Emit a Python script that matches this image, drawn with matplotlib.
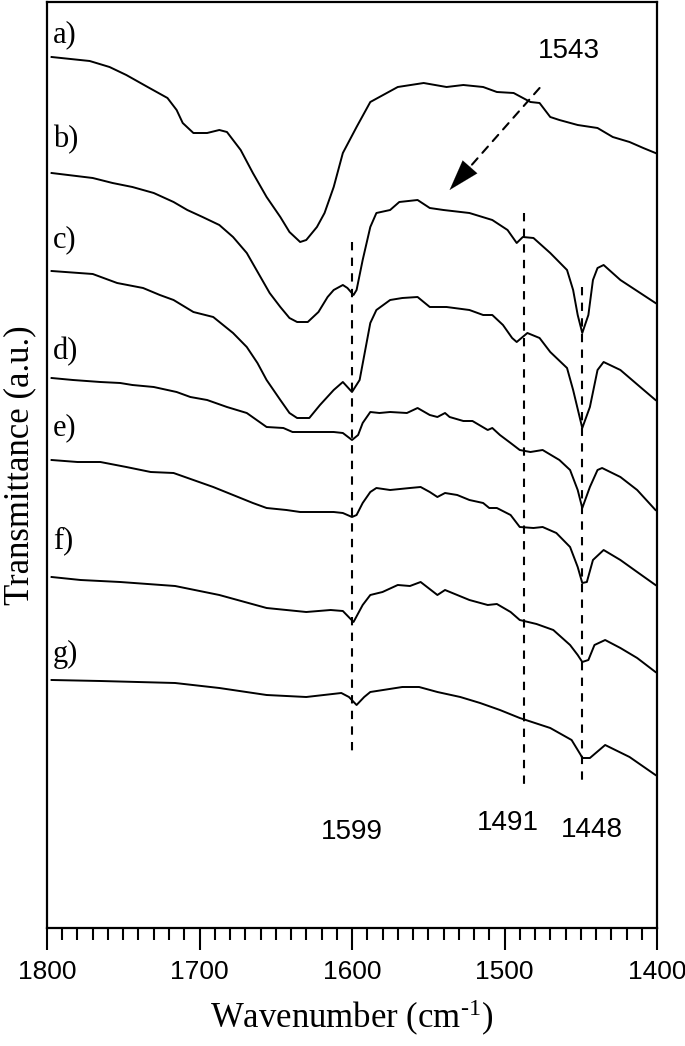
import matplotlib
matplotlib.use("Agg")
import matplotlib.pyplot as plt
from matplotlib.ticker import MultipleLocator

# =========================
# data (wavenumber / transmittance a.u.)
# =========================
wn_a = [1797, 1772, 1759, 1748, 1734, 1721, 1715, 1711, 1704, 1695, 1687, 1682, 1673, 1665,
        1656, 1647, 1641, 1634, 1630, 1623, 1618, 1612, 1606, 1597, 1588, 1582, 1570, 1553,
        1538, 1527, 1514, 1505, 1494, 1483, 1477, 1470, 1464, 1452, 1439, 1429, 1418, 1409, 1401]
t_a = [8.71, 8.67, 8.61, 8.53, 8.41, 8.30, 8.18, 8.05, 7.95, 7.95, 7.98, 7.96, 7.78, 7.55,
       7.31, 7.11, 6.96, 6.86, 6.88, 7.01, 7.15, 7.41, 7.75, 8.01, 8.26, 8.31, 8.41, 8.45,
       8.41, 8.43, 8.41, 8.36, 8.35, 8.26, 8.25, 8.11, 8.08, 8.03, 8.00, 7.91, 7.86, 7.80, 7.75]

wn_b = [1797, 1770, 1757, 1744, 1730, 1717, 1708, 1698, 1687, 1678, 1669, 1660, 1654, 1647,
        1641, 1636, 1629, 1622, 1616, 1612, 1606, 1603, 1599, 1597, 1593, 1588, 1584, 1575,
        1569, 1557, 1549, 1540, 1523, 1508, 1498, 1492, 1488, 1481, 1470, 1459, 1455, 1452,
        1449, 1445, 1442, 1439, 1435, 1424, 1411, 1401]
t_b = [7.55, 7.50, 7.45, 7.41, 7.35, 7.26, 7.18, 7.11, 7.03, 6.91, 6.75, 6.51, 6.35, 6.21,
       6.10, 6.06, 6.06, 6.16, 6.31, 6.38, 6.43, 6.40, 6.33, 6.38, 6.68, 7.01, 7.15, 7.18,
       7.26, 7.28, 7.20, 7.18, 7.15, 7.08, 6.98, 6.85, 6.91, 6.90, 6.75, 6.58, 6.38, 6.13,
       5.95, 6.13, 6.48, 6.60, 6.63, 6.48, 6.35, 6.25]

wn_c = [1797, 1770, 1754, 1737, 1726, 1717, 1704, 1691, 1678, 1669, 1662, 1656, 1647, 1641,
        1636, 1628, 1621, 1612, 1606, 1600, 1595, 1588, 1584, 1575, 1567, 1557, 1549, 1538,
        1523, 1514, 1508, 1501, 1495, 1492, 1485, 1477, 1470, 1459, 1455, 1449, 1444, 1439,
        1435, 1424, 1411, 1401]
t_c = [6.57, 6.54, 6.45, 6.40, 6.33, 6.28, 6.16, 6.11, 5.95, 5.81, 5.65, 5.48, 5.28, 5.15,
       5.10, 5.10, 5.23, 5.38, 5.46, 5.36, 5.48, 6.05, 6.18, 6.28, 6.30, 6.31, 6.21, 6.21,
       6.18, 6.13, 6.13, 6.03, 5.90, 5.86, 5.95, 5.90, 5.76, 5.60, 5.38, 5.00, 5.21, 5.58,
       5.66, 5.58, 5.41, 5.28]

wn_d = [1797, 1783, 1765, 1752, 1744, 1730, 1715, 1706, 1695, 1682, 1669, 1656, 1645, 1639,
        1623, 1612, 1606, 1600, 1596, 1593, 1588, 1582, 1575, 1564, 1557, 1549, 1544, 1539,
        1536, 1527, 1521, 1511, 1508, 1503, 1496, 1490, 1483, 1475, 1464, 1457, 1452, 1449,
        1444, 1439, 1436, 1424, 1413, 1401]
t_d = [5.50, 5.48, 5.46, 5.45, 5.43, 5.41, 5.36, 5.31, 5.28, 5.21, 5.15, 5.01, 5.00, 4.96,
       4.96, 4.96, 4.95, 4.88, 4.93, 5.05, 5.16, 5.15, 5.16, 5.15, 5.20, 5.13, 5.11, 5.15,
       5.11, 5.07, 5.07, 4.98, 5.00, 4.93, 4.85, 4.78, 4.76, 4.78, 4.68, 4.58, 4.38, 4.20,
       4.41, 4.58, 4.60, 4.51, 4.38, 4.18]

wn_e = [1797, 1780, 1765, 1748, 1732, 1717, 1704, 1691, 1678, 1665, 1656, 1643, 1634, 1612,
        1606, 1600, 1597, 1593, 1588, 1584, 1575, 1562, 1555, 1549, 1544, 1539, 1531, 1523,
        1514, 1510, 1505, 1496, 1490, 1481, 1475, 1466, 1457, 1452, 1449, 1446, 1442, 1435,
        1424, 1413, 1401]
t_e = [4.68, 4.66, 4.66, 4.61, 4.56, 4.55, 4.48, 4.41, 4.33, 4.25, 4.20, 4.18, 4.16, 4.16,
       4.15, 4.11, 4.13, 4.25, 4.36, 4.40, 4.38, 4.40, 4.41, 4.36, 4.31, 4.35, 4.33, 4.28,
       4.25, 4.20, 4.20, 4.13, 4.01, 4.00, 4.01, 3.95, 3.81, 3.61, 3.45, 3.46, 3.68, 3.78,
       3.68, 3.56, 3.43]

wn_f = [1797, 1778, 1752, 1716, 1687, 1656, 1630, 1614, 1606, 1599, 1593, 1588, 1580, 1570,
        1562, 1555, 1544, 1539, 1531, 1523, 1511, 1505, 1496, 1490, 1479, 1468, 1457, 1452,
        1449, 1445, 1441, 1434, 1424, 1413, 1401]
t_f = [3.51, 3.48, 3.46, 3.42, 3.33, 3.20, 3.16, 3.18, 3.17, 3.06, 3.23, 3.33, 3.36, 3.43,
       3.42, 3.46, 3.33, 3.38, 3.33, 3.28, 3.23, 3.24, 3.16, 3.08, 3.04, 2.98, 2.83, 2.73,
       2.66, 2.68, 2.83, 2.88, 2.80, 2.70, 2.56]

wn_g = [1797, 1765, 1716, 1687, 1656, 1630, 1607, 1602, 1597, 1592, 1588, 1567, 1556, 1544,
        1529, 1516, 1503, 1490, 1470, 1456, 1450, 1449, 1444, 1434, 1418, 1401]
t_g = [2.48, 2.47, 2.45, 2.40, 2.33, 2.31, 2.35, 2.31, 2.23, 2.31, 2.36, 2.41, 2.41, 2.36,
       2.31, 2.25, 2.18, 2.10, 2.00, 1.88, 1.73, 1.70, 1.70, 1.83, 1.71, 1.53]

curve_labels = ["a)", "b)", "c)", "d)", "e)", "f)", "g)"]
label_t = [8.93, 7.88, 6.88, 5.76, 5.00, 3.87, 2.74]

# marked bands: label text, line position, line top, line bottom, label position
band_labels = ["1599", "1491", "1448"]
band_wn = [1600, 1487, 1449]
band_top = [6.86, 7.15, 6.41]
band_bottom = [1.71, 1.40, 1.46]
band_text_wn = [1600, 1498, 1443]
band_text_t = [0.96, 1.05, 0.98]

arrow_from = (1477, 8.40)
arrow_to = (1536, 7.38)
arrow_text = "1543"
arrow_text_pos = (1458, 8.77)

SERIF = ["Liberation Serif", "DejaVu Serif"]
SANS = ["Liberation Sans", "DejaVu Sans"]


def main():
    plt.rcParams["axes.unicode_minus"] = False
    plt.rcParams["mathtext.default"] = "regular"
    plt.rcParams["mathtext.fontset"] = "custom"
    plt.rcParams["mathtext.rm"] = "Liberation Serif"
    plt.rcParams["mathtext.it"] = "Liberation Serif:italic"

    fig = plt.figure(figsize=(6.85, 10.46), dpi=100)
    ax = fig.add_axes([47 / 685, 118 / 1046, 610 / 685, 926 / 1046])

    for wn, t in zip([wn_a, wn_b, wn_c, wn_d, wn_e, wn_f, wn_g],
                     [t_a, t_b, t_c, t_d, t_e, t_f, t_g]):
        ax.plot(wn, t, color="black", linewidth=1.4)

    for lab, ty in zip(curve_labels, label_t):
        ax.text(1796, ty, lab, family=SERIF, fontsize=22, ha="left", va="center")

    for lab, x, y0, y1, tx, ty in zip(band_labels, band_wn, band_top, band_bottom,
                                      band_text_wn, band_text_t):
        ax.plot([x, x], [y0, y1], color="black", linewidth=1.5, linestyle=(0, (4, 3.5)))
        ax.text(tx, ty, lab, family=SANS, fontsize=20, ha="center", va="center")

    # dashed arrow to the 1543 band
    ax.annotate("", xy=arrow_to, xytext=arrow_from,
                arrowprops=dict(arrowstyle="-", linestyle=(0, (4, 3.5)), lw=1.5,
                                color="black", shrinkA=0, shrinkB=10))
    ax.annotate("", xy=arrow_to,
                xytext=(arrow_to[0] - 0.3 * (arrow_to[0] - arrow_from[0]),
                        arrow_to[1] - 0.3 * (arrow_to[1] - arrow_from[1])),
                arrowprops=dict(arrowstyle="-|>,head_length=1.1,head_width=0.35",
                                mutation_scale=20, lw=0.1, color="black",
                                shrinkA=0, shrinkB=0))
    ax.text(arrow_text_pos[0], arrow_text_pos[1], arrow_text, family=SANS, fontsize=20,
            ha="center", va="center")

    ax.set_xlim(1800, 1400)
    ax.set_ylim(0, 9.26)
    ax.xaxis.set_major_locator(MultipleLocator(100))
    ax.xaxis.set_minor_locator(MultipleLocator(10))
    ax.tick_params(axis="x", which="major", direction="out", length=16, width=1.5, pad=7)
    ax.tick_params(axis="x", which="minor", direction="out", length=8.5, width=1.5)
    ax.set_yticks([])
    for lab in ax.get_xticklabels():
        lab.set_family(SANS)
        lab.set_fontsize(19)
    for sp in ax.spines.values():
        sp.set_linewidth(1.6)

    ax.set_xlabel("Wavenumber (cm$^{\u2010 1}$)", family=SERIF, fontsize=25, labelpad=10)
    ax.set_ylabel("Transmittance (a.u.)", family=SERIF, fontsize=25, labelpad=8)

    fig.savefig("out.png", dpi=100)
    plt.close(fig)


if __name__ == "__main__":
    main()
